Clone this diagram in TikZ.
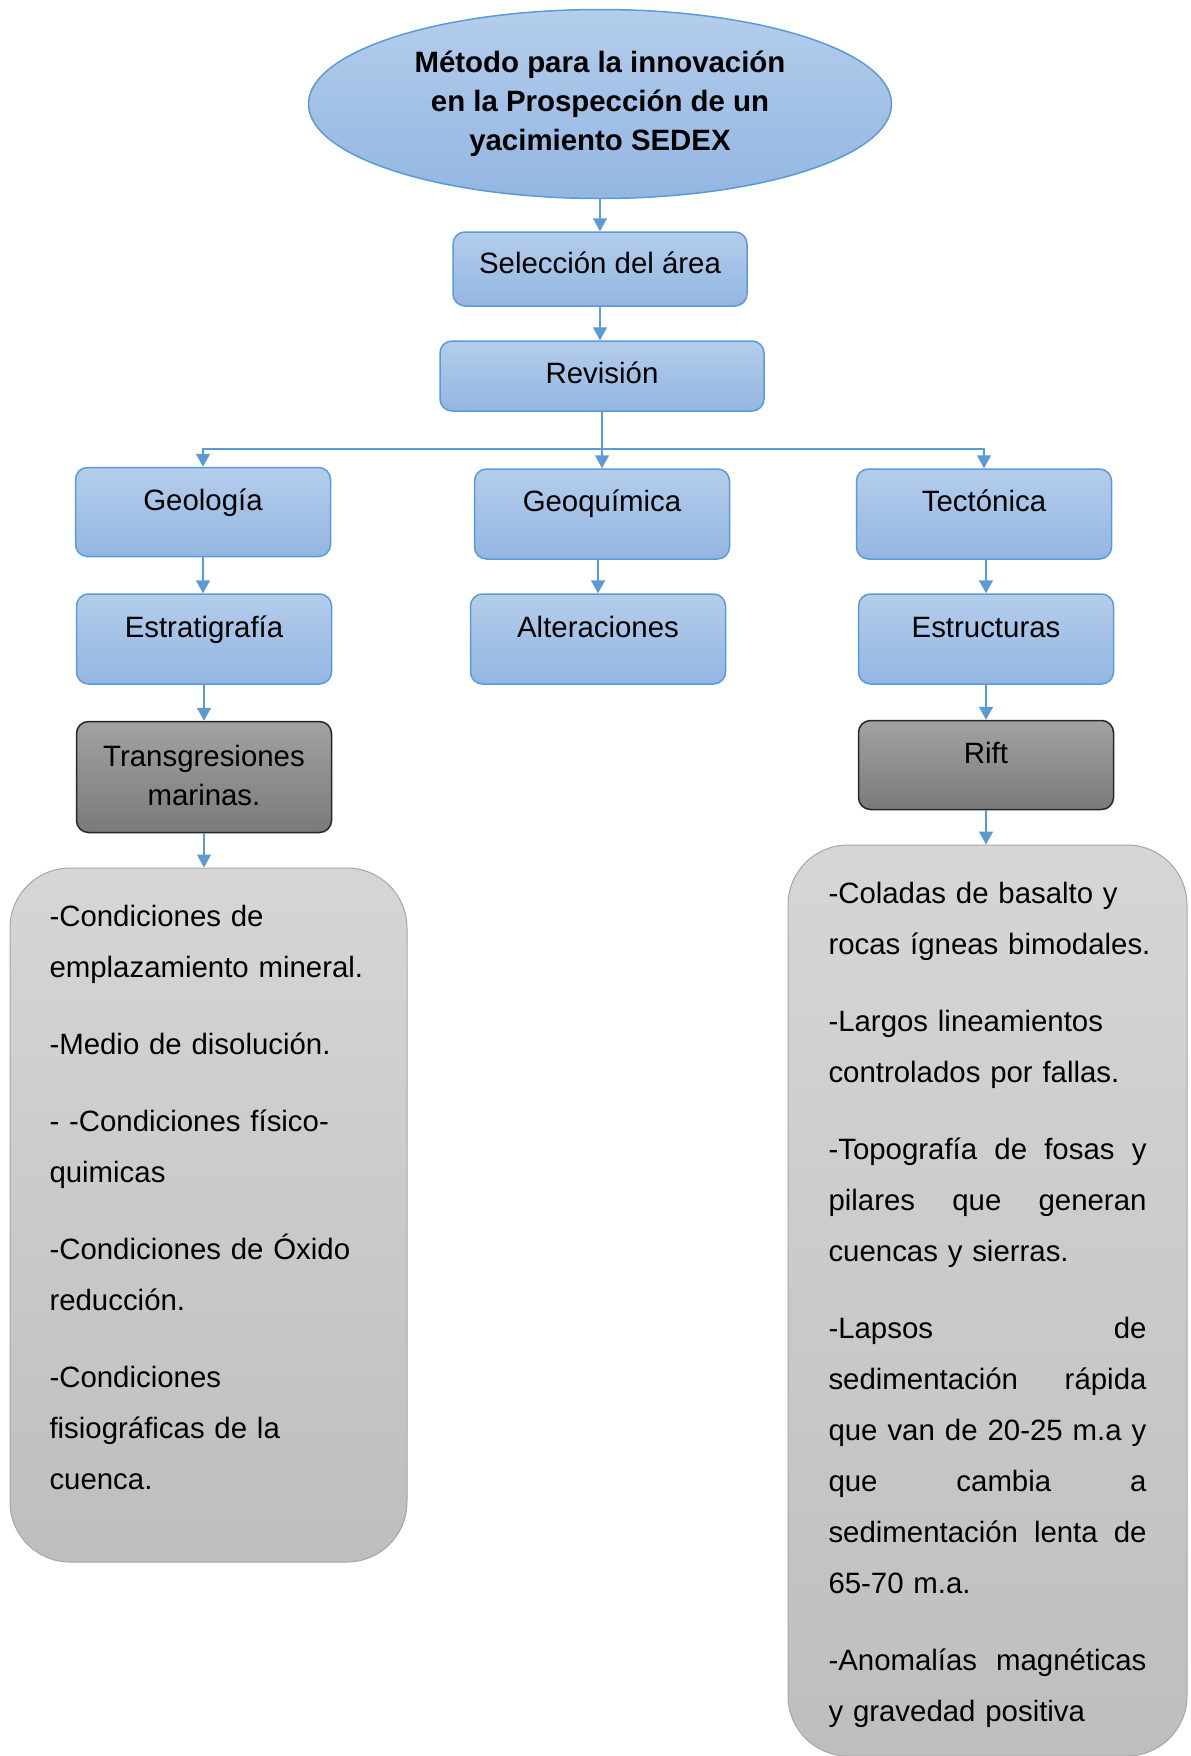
\documentclass[tikz,border=0pt]{standalone}
\usepackage{fontspec}
\setmainfont{Liberation Sans}
\usepackage{xcolor}
\usetikzlibrary{shapes.geometric, positioning, arrows.meta}

\definecolor{boxtop}{HTML}{B4CDEB}
\definecolor{boxbot}{HTML}{93B6E2}
\definecolor{boxline}{HTML}{5B9BD5}
\definecolor{darktop}{HTML}{A2A2A2}
\definecolor{darkbot}{HTML}{7A7A7A}
\definecolor{greytop}{HTML}{D6D6D6}
\definecolor{greybot}{HTML}{BEBEBE}
\definecolor{greyline}{HTML}{A6A6A6}

\newcommand{\jl}[1]{\leavevmode\hbox to 159pt{#1}}
\newcommand{\nl}[1]{\mbox{#1}}

\begin{document}
\begin{tikzpicture}[x=0.5pt,y=-0.5pt,->,>={Triangle[width=7pt,length=6.5pt]},semithick]
        \tikzstyle{every node}=[inner sep=0pt,font=\fontsize{14.7}{19.5}\selectfont]
        \tikzstyle{bluebox}=[rectangle,rounded corners=6pt,draw=boxline,line width=0.75pt,
                top color=boxtop,bottom color=boxbot,minimum width=127.5pt]
        \tikzstyle{darkbox}=[rectangle,rounded corners=6pt,draw=black!85,line width=0.75pt,
                top color=darktop,bottom color=darkbot,minimum width=127.5pt]
        \tikzstyle{greybox}=[rectangle,rounded corners=30pt,draw=greyline,line width=0.5pt,
                top color=greytop,bottom color=greybot,text width=159pt,align=left,
                font=\fontsize{14.7}{25.5}\selectfont]
        \tikzstyle{link}=[draw=boxline,line width=0.75pt]

        \useasboundingbox (0,0) rectangle (1190,1756);

        % titulo
        \node[ellipse,draw=boxline,line width=0.75pt,top color=boxtop,bottom color=boxbot,
              minimum width=291.5pt,minimum height=94.5pt,align=center,font=\bfseries\fontsize{14.7}{19.5}\selectfont]
              (met) at (600,104) {Método para la innovación\\en la Prospección de un\\yacimiento SEDEX};

        \node[bluebox,minimum width=147pt,text height=20.75pt,text depth=16.25pt] (sel) at (600,269) {Selección del área};
        \node[bluebox,minimum width=162pt,text height=21.25pt,text depth=13.75pt] (rev) at (602,376) {Revisión};

        % tres ramas
        \node[bluebox,text height=21.5pt,text depth=23pt]    (geo)  at (203,512) {Geología};
        \node[bluebox,text height=21pt,text depth=24pt]      (geoq) at (602,514) {Geoquímica};
        \node[bluebox,text height=21pt,text depth=24pt]      (tec)  at (984,514) {Tectónica};

        \node[bluebox,text height=21.75pt,text depth=23.25pt] (estr) at (204,639) {Estratigrafía};
        \node[bluebox,text height=21.75pt,text depth=23.25pt] (alt)  at (598,639) {Alteraciones};
        \node[bluebox,text height=21.75pt,text depth=23.25pt] (estc) at (986,639) {Estructuras};

        \node[darkbox,text width=127.5pt,align=center,text height=22.25pt,text depth=33.25pt]
              (trans) at (204,777) {Transgresiones\\marinas.};
        \node[darkbox,text height=21.25pt,text depth=23.25pt] (rift) at (986,765) {Rift};

        % cuadros de texto
        \node[greybox,minimum width=198.5pt,text height=29pt,text depth=318pt] (cond) at (208.5,1215) {%
              \nl{-Condiciones de}\\
              \nl{emplazamiento mineral.}\\[13pt]
              \nl{-Medio de disolución.}\\[13pt]
              \nl{- -Condiciones físico-}\\
              quimicas\\[13pt]
              \nl{-Condiciones de Óxido}\\
              reducción.\\[13pt]
              -Condiciones\\
              \nl{fisiográficas de la}\\
              cuenca.};
        \node[greybox,minimum width=199.5pt,text height=29pt,text depth=426.5pt] (cara) at (987.5,1300.5) {%
              \nl{-Coladas de basalto y}\\
              \nl{rocas ígneas bimodales.}\\[13pt]
              \nl{-Largos lineamientos}\\
              \nl{controlados por fallas.}\\[13pt]
              \jl{-Topografía\hfill de\hfill fosas\hfill y}\\
              \jl{pilares\hfill que\hfill generan}\\
              \nl{cuencas y sierras.}\\[13pt]
              \jl{-Lapsos\hfill de}\\
              \jl{sedimentación\hfill rápida}\\
              \jl{que\hfill van\hfill de\hfill 20-25\hfill m.a\hfill y}\\
              \jl{que\hfill cambia\hfill a}\\
              \jl{sedimentación\hfill lenta\hfill de}\\
              \nl{65-70 m.a.}\\[13pt]
              \jl{-Anomalías\hfill magnéticas}\\
              \nl{y gravedad positiva}};

        \coordinate (bus) at (602,449);

        \draw[link] (met.south) -- (sel.north);
        \draw[link] (sel.south) -- (sel.south |- rev.north);
        \draw[link,-] (rev.south) -- (bus);
        \draw[link] (bus) -- (bus |- geoq.north);
        \draw[link] (bus) -| (geo.north);
        \draw[link] (bus) -| (tec.north);

        \draw[link] (geo.south) -- (geo.south |- estr.north);
        \draw[link] (alt.north |- geoq.south) -- (alt.north);
        \draw[link] (estc.north |- tec.south) -- (estc.north);
        \draw[link] (estr.south) -- (estr.south |- trans.north);
        \draw[link] (rift.north |- estc.south) -- (rift.north);
        \draw[link] (trans.south) -- (trans.south |- cond.north);
        \draw[link] (rift.south) -- (rift.south |- cara.north);
\end{tikzpicture}
\end{document}
